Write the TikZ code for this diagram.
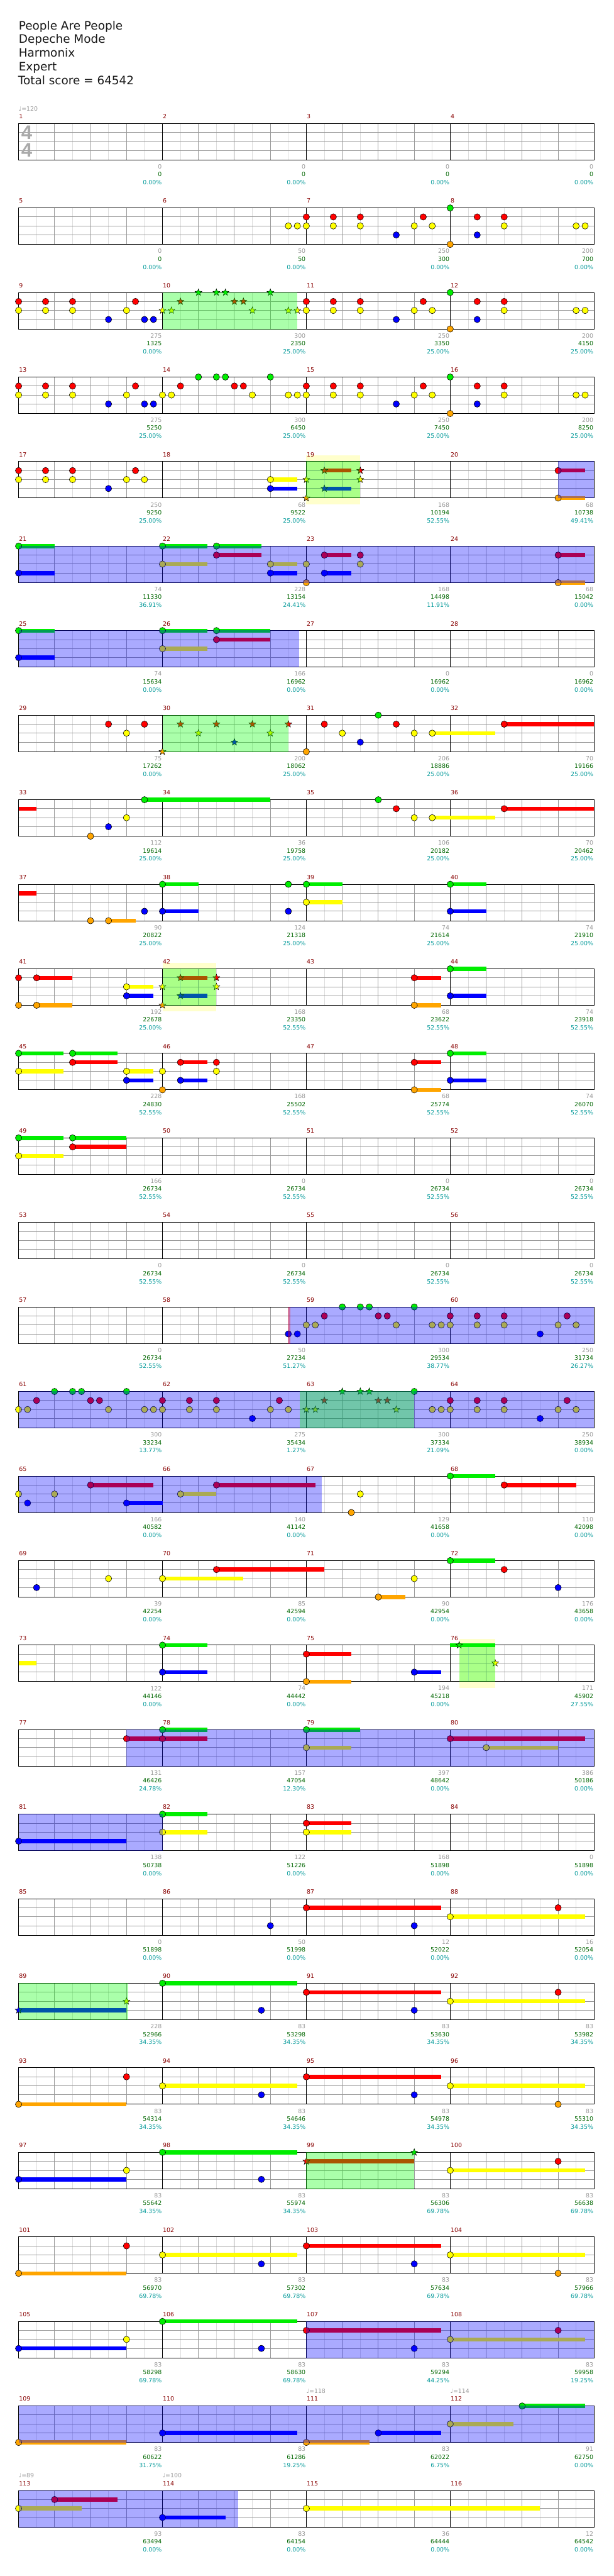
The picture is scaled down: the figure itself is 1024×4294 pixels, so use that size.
\documentclass[tikz,border=0pt]{standalone}
\usepackage{fontspec}
\setmainfont{DejaVu Sans}
\newfontfamily\tsfont{Liberation Sans}
\usetikzlibrary{shapes.geometric}
\definecolor{mnum}{HTML}{880000}
\definecolor{lgray}{HTML}{999999}
\definecolor{sgreen}{HTML}{006600}
\definecolor{scyan}{HTML}{009999}
\definecolor{gridA}{HTML}{999999}
\definecolor{gridB}{HTML}{DDDDDD}
\definecolor{cG}{HTML}{00EE00}
\definecolor{cR}{HTML}{FF0000}
\definecolor{cY}{HTML}{FFFF00}
\definecolor{cB}{HTML}{0000FF}
\definecolor{cO}{HTML}{FFA500}
\definecolor{cOD}{HTML}{00FF00}
\definecolor{paleY}{HTML}{FFFFCC}
\definecolor{tsgray}{HTML}{AAAAAA}
\newcount\nc
\def\lf{\fontsize{7.4pt}{8pt}\selectfont}
\tikzset{
  note/.style={circle,draw=black,line width=0.45pt,inner sep=0pt,minimum size=8pt},
  starn/.style={star,star points=5,star point ratio=2.4,draw=black,line width=0.4pt,inner sep=0pt,minimum size=9pt},
  lbl/.style={font=\lf,inner sep=0pt,anchor=east},
  mn/.style={font=\lf,text=mnum,inner sep=0pt,anchor=west},
  gl/.style={line width=0.75pt},
  title/.style={anchor=base west,inner sep=0pt,font=\fontsize{14.5pt}{16pt}\selectfont,text=black!90},
}
\def\Ln#1#2#3{\foreach \q in {#3}{\global\advance\nc by 1\relax\node[note,fill=#1] (n\the\nc) at ({15*\q},#2) {};}}
\def\Lt#1#2#3{\foreach \q in {#3}{\global\advance\nc by 1\relax\node[starn,fill=#1] (n\the\nc) at ({15*\q},#2) {};}}
\def\Ls#1#2#3#4{\fill[#1] ({15*#3},{#2-3.4}) rectangle ({15*#4},{#2+3.4});}
\def\Gn#1{\Ln{cG}{0}{#1}}\def\Rn#1{\Ln{cR}{15}{#1}}\def\Yn#1{\Ln{cY}{30}{#1}}\def\Bn#1{\Ln{cB}{45}{#1}}\def\On#1{\Ln{cO}{60.8}{#1}}
\def\Gt#1{\Lt{cG}{0}{#1}}\def\Rt#1{\Lt{cR}{15}{#1}}\def\Yt#1{\Lt{cY}{30}{#1}}\def\Bt#1{\Lt{cB}{45}{#1}}\def\Ot#1{\Lt{cO}{60.8}{#1}}
\def\Gs#1#2{\Ls{cG}{0}{#1}{#2}}\def\Rs#1#2{\Ls{cR}{15}{#1}{#2}}\def\Ys#1#2{\Ls{cY}{30}{#1}{#2}}\def\Bs#1#2{\Ls{cB}{45}{#1}{#2}}\def\Os#1#2{\Ls{cO}{60.8}{#1}{#2}}
\def\blu#1#2{\fill[blue,fill opacity=0.3333] ({15*#1},-0.5) rectangle ({15*#2},61.3);}
\def\grn#1#2{\fill[cOD,fill opacity=0.3333] ({15*#1},-0.5) rectangle ({15*#2},61.3);}
\def\pal#1#2{\fill[paleY] ({15*#1},-10.4) rectangle ({15*#2},71);}
\def\grid#1{%
  \foreach \i in {2,6,...,62}{\draw[gridB,gl] ({15*\i},0) -- ({15*\i},60.8);}
  \foreach \yy in {15,30,45}{\draw[gridA,gl] (0,\yy) -- (960,\yy);}
  \foreach \i in {4,8,12,20,24,28,36,40,44,52,56,60}{\draw[gridA,gl] ({15*\i},0) -- ({15*\i},60.8);}
  \foreach \i in {16,32,48}{\draw[black,gl] ({15*\i},0) -- ({15*\i},60.8);}
  \draw[black,gl] (0,0) rectangle (960,60.8);
  \foreach \k in {0,1,2,3}{\pgfmathtruncatemacro\mm{#1+\k}\global\advance\nc by 1\relax\node[mn] (m\the\nc) at ({240*\k+0.5},-11.7) {\mm};}
}
\def\lab#1#2#3#4{%
  \global\advance\nc by 1\relax\node[lbl,text=lgray] (a\the\nc) at ({240*#1-1},72) {#2};
  \node[lbl,text=sgreen] (b\the\nc) at ({240*#1-1},85) {#3};
  \node[lbl,text=scyan] (c\the\nc) at ({240*#1-1},98.5) {#4};}
\def\RowAt#1{\begin{scope}[shift={(31,{205.7+(#1-1)*140.92})}]}
\def\RowEnd{\end{scope}}
\newfontfamily\symf{DejaVu Sans}
\def\tempo#1#2{\global\advance\nc by 1\relax\node[font=\lf,text=lgray,anchor=west,inner sep=0pt] (t\the\nc) at (#1,-24.7) {\symf ♩=#2};}
\begin{document}
\begin{tikzpicture}[x=0.75pt,y=-0.75pt]
\useasboundingbox (0,0) rectangle (1024,4294);
\fill[white] (0,0) rectangle (1024,4294);
\node[title] (t1) at (31,49.3) {People Are People};
\node[title] (t2) at (31,72.3) {Depeche Mode};
\node[title] (t3) at (31,95.3) {Harmonix};
\node[title] (t4) at (31,118.3) {Expert};
\node[title] (t5) at (30,141.3) {Total score = 64542};
% ---- row 1
\RowAt{1}
\grid{1}
\node[font=\tsfont\bfseries\fontsize{24.5pt}{25pt}\selectfont,text=tsgray,inner sep=0pt] (ts1) at (13.5,15) {4};
\node[font=\tsfont\bfseries\fontsize{24.5pt}{25pt}\selectfont,text=tsgray,inner sep=0pt] (ts2) at (13.5,45) {4};
\tempo{0}{120}
\lab1{0}{0}{0.00\%}\lab2{0}{0}{0.00\%}\lab3{0}{0}{0.00\%}\lab4{0}{0}{0.00\%}
\RowEnd
% ---- row 2
\RowAt{2}
\grid{5}
\Yn{30,31,32,35,38,44,46,54,62,63}\Rn{32,35,38,45,51,54}\Bn{42,51}\Gn{48}\On{48}
\lab1{0}{0}{0.00\%}\lab2{50}{50}{0.00\%}\lab3{250}{300}{0.00\%}\lab4{200}{700}{0.00\%}
\RowEnd
% ---- row 3
\RowAt{3}
\grid{9}
\Rn{0,3,6,13,32,35,38,45,51,54}\Yn{0,3,6,12,32,35,38,44,46,54,62,63}\Bn{10,14,15,42,51}\Gn{48}\On{48}
\Yt{16,17,26,30,31}\Rt{18,24,25}\Gt{20,22,23,28}
\grn{16}{31}
\lab1{275}{1325}{0.00\%}\lab2{300}{2350}{25.00\%}\lab3{250}{3350}{25.00\%}\lab4{200}{4150}{25.00\%}
\RowEnd
% ---- row 4
\RowAt{4}
\grid{13}
\Rn{0,3,6,13,18,24,25,32,35,38,45,51,54}\Yn{0,3,6,12,16,17,26,30,31,32,35,38,44,46,54,62,63}
\Bn{10,14,15,42,51}\Gn{20,22,23,28,48}\On{48}
\lab1{275}{5250}{25.00\%}\lab2{300}{6450}{25.00\%}\lab3{250}{7450}{25.00\%}\lab4{200}{8250}{25.00\%}
\RowEnd
% ---- row 5
\RowAt{5}
\pal{32}{38}
\grid{17}
\Rn{0,3,6,13}\Yn{0,3,6,12,14}\Bn{10}
\Ys{28}{31}\Yn{28}\Bs{28}{31}\Bn{28}
\Rs{34}{37}\Bs{34}{37}\Yt{32,38}\Ot{32}\Rt{34,38}\Bt{34}
\Rs{60}{63}\Os{60}{63}\Rn{60}\On{60}
\grn{32}{38}\blu{60}{64}
\lab1{250}{9250}{25.00\%}\lab2{68}{9522}{25.00\%}\lab3{168}{10194}{52.55\%}\lab4{68}{10738}{49.41\%}
\RowEnd
% ---- row 6
\RowAt{6}
\grid{21}
\Gs{0}{4}\Bs{0}{4}\Gs{16}{21}\Ys{16}{21}\Gs{22}{27}\Rs{22}{27}\Ys{28}{31}\Bs{28}{31}
\Rs{34}{37}\Bs{34}{37}\Rs{60}{63}\Os{60}{63}
\Gn{0,16,22}\Bn{0,28,34}\Yn{16,28,32,38}\Rn{22,34,38,60}\On{32,60}
\blu{0}{64}
\lab1{74}{11330}{36.91\%}\lab2{228}{13154}{24.41\%}\lab3{168}{14498}{11.91\%}\lab4{68}{15042}{0.00\%}
\RowEnd
% ---- row 7
\RowAt{7}
\grid{25}
\Gs{0}{4}\Bs{0}{4}\Gs{16}{21}\Ys{16}{21}\Gs{22}{28}\Rs{22}{28}
\Gn{0,16,22}\Bn{0}\Yn{16}\Rn{22}
\blu{0}{31.2}
\lab1{74}{15634}{0.00\%}\lab2{166}{16962}{0.00\%}\lab3{0}{16962}{0.00\%}\lab4{0}{16962}{0.00\%}
\RowEnd
% ---- row 8
\RowAt{8}
\grid{29}
\Ys{46}{53}\Rs{54}{64}
\Rn{10,14,34,42,54}\Yn{12,36,44,46}\On{32}\Bn{38}\Gn{40}
\Ot{16}\Rt{18,22,26,30}\Yt{20,28}\Bt{24}
\grn{16}{30}
\lab1{75}{17262}{0.00\%}\lab2{200}{18062}{25.00\%}\lab3{206}{18886}{25.00\%}\lab4{70}{19166}{25.00\%}
\RowEnd
% ---- row 9
\RowAt{9}
\grid{33}
\Rs{0}{2}\Gs{14}{28}\Ys{46}{53}\Rs{54}{64}
\On{8}\Bn{10}\Yn{12,44,46}\Gn{14,40}\Rn{42,54}
\lab1{112}{19614}{25.00\%}\lab2{36}{19758}{25.00\%}\lab3{106}{20182}{25.00\%}\lab4{70}{20462}{25.00\%}
\RowEnd
% ---- row 10
\RowAt{10}
\grid{37}
\Rs{0}{2}\Os{10}{13}\Gs{16}{20}\Bs{16}{20}\Gs{32}{36}\Ys{32}{36}\Gs{48}{52}\Bs{48}{52}
\On{8,10}\Bn{14,16,30,48}\Gn{16,30,32,48}\Yn{32}
\lab1{90}{20822}{25.00\%}\lab2{124}{21318}{25.00\%}\lab3{74}{21614}{25.00\%}\lab4{74}{21910}{25.00\%}
\RowEnd
% ---- row 11
\RowAt{11}
\pal{16}{22}
\grid{41}
\Rs{2}{6}\Os{2}{6}\Ys{12}{15}\Bs{12}{15}\Rs{18}{21}\Bs{18}{21}\Rs{44}{47}\Os{44}{47}\Gs{48}{52}\Bs{48}{52}
\Rn{0,2,44}\On{0,2,44}\Yn{12}\Bn{12,48}\Gn{48}
\Yt{16,22}\Ot{16}\Rt{18,22}\Bt{18}
\grn{16}{22}
\lab1{192}{22678}{25.00\%}\lab2{168}{23350}{52.55\%}\lab3{68}{23622}{52.55\%}\lab4{74}{23918}{52.55\%}
\RowEnd
% ---- row 12
\RowAt{12}
\grid{45}
\Gs{0}{5}\Ys{0}{5}\Gs{6}{11}\Rs{6}{11}\Ys{12}{15}\Bs{12}{15}\Rs{18}{21}\Bs{18}{21}\Rs{44}{47}\Os{44}{47}\Gs{48}{52}\Bs{48}{52}
\Gn{0,6,48}\Yn{0,12,16,22}\Rn{6,18,22,44}\Bn{12,18,48}\On{16,44}
\lab1{228}{24830}{52.55\%}\lab2{168}{25502}{52.55\%}\lab3{68}{25774}{52.55\%}\lab4{74}{26070}{52.55\%}
\RowEnd
% ---- row 13
\RowAt{13}
\grid{49}
\Gs{0}{5}\Ys{0}{5}\Gs{6}{12}\Rs{6}{12}
\Gn{0,6}\Yn{0}\Rn{6}
\lab1{166}{26734}{52.55\%}\lab2{0}{26734}{52.55\%}\lab3{0}{26734}{52.55\%}\lab4{0}{26734}{52.55\%}
\RowEnd
% ---- row 14
\RowAt{14}
\grid{53}
\lab1{0}{26734}{52.55\%}\lab2{0}{26734}{52.55\%}\lab3{0}{26734}{52.55\%}\lab4{0}{26734}{52.55\%}
\RowEnd
% ---- row 15
\RowAt{15}
\grid{57}
\Bn{30,31,58}\Yn{32,33,42,46,47,48,51,54,60,62}\Rn{34,40,41,48,51,54,61}\Gn{36,38,39,44}
\blu{30}{64}
\fill[red,fill opacity=0.35] (449,-0.5) rectangle (453,61.3);
\lab1{0}{26734}{52.55\%}\lab2{50}{27234}{51.27\%}\lab3{300}{29534}{38.77\%}\lab4{250}{31734}{26.27\%}
\RowEnd
% ---- row 16
\RowAt{16}
\grid{61}
\Yn{0,1,10,14,15,16,19,22,28,30,46,47,48,51,54,60,62}\Rn{2,8,9,16,19,22,29,48,51,54,61}\Gn{4,6,7,12,44}\Bn{26,58}
\Yt{32,33,42}\Rt{34,40,41}\Gt{36,38,39}
\blu{0}{64}\grn{31.3}{44}
\lab1{300}{33234}{13.77\%}\lab2{275}{35434}{1.27\%}\lab3{300}{37334}{21.09\%}\lab4{250}{38934}{0.00\%}
\RowEnd
% ---- row 17
\RowAt{17}
\grid{65}
\Rs{8}{15}\Bs{12}{16}\Ys{18}{22}\Rs{22}{33}\Gs{48}{53}\Rs{54}{62}
\Yn{0,4,18,38}\Bn{1,12}\Rn{8,22,54}\On{37}\Gn{48}
\blu{0}{33.7}
\lab1{166}{40582}{0.00\%}\lab2{140}{41142}{0.00\%}\lab3{129}{41658}{0.00\%}\lab4{110}{42098}{0.00\%}
\RowEnd
% ---- row 18
\RowAt{18}
\grid{69}
\Ys{16}{25}\Rs{22}{34}\Os{40}{43}\Gs{48}{53}
\Bn{2}\Yn{10,16,44}\Rn{22,54}\On{40}\Gn{48}\Bn{60}
\lab1{39}{42254}{0.00\%}\lab2{85}{42594}{0.00\%}\lab3{90}{42954}{0.00\%}\lab4{176}{43658}{0.00\%}
\RowEnd
% ---- row 19
\RowAt{19}
\pal{49}{53}
\grid{73}
\Ys{0}{2}\Gs{16}{21}\Bs{16}{21}\Rs{32}{37}\Os{32}{37}\Bs{44}{47}\Gs{48}{53}
\Gn{16}\Bn{16,44}\Rn{32}\On{32}\Gt{49}\Yt{53}
\grn{49}{53}
\lab1{122}{44146}{0.00\%}\lab2{74}{44442}{0.00\%}\lab3{194}{45218}{0.00\%}\lab4{171}{45902}{27.55\%}
\RowEnd
% ---- row 20
\RowAt{20}
\grid{77}
\Rs{12}{16}\Gs{16}{21}\Rs{16}{21}\Gs{32}{38}\Ys{32}{37}\Rs{48}{63}\Ys{52}{60}
\Rn{12,16,48}\Gn{16,32}\Yn{32,52}
\blu{12}{64}
\lab1{131}{46426}{24.78\%}\lab2{157}{47054}{12.30\%}\lab3{397}{48642}{0.00\%}\lab4{386}{50186}{0.00\%}
\RowEnd
% ---- row 21
\RowAt{21}
\grid{81}
\Bs{0}{12}\Gs{16}{21}\Ys{16}{21}\Rs{32}{37}\Ys{32}{37}
\Bn{0}\Gn{16}\Yn{16,32}\Rn{32}
\blu{0}{16}
\lab1{138}{50738}{0.00\%}\lab2{122}{51226}{0.00\%}\lab3{168}{51898}{0.00\%}\lab4{0}{51898}{0.00\%}
\RowEnd
% ---- row 22
\RowAt{22}
\grid{85}
\Rs{32}{47}\Ys{48}{63}
\Bn{28,44}\Rn{32,60}\Yn{48}
\lab1{0}{51898}{0.00\%}\lab2{50}{51998}{0.00\%}\lab3{12}{52022}{0.00\%}\lab4{16}{52054}{0.00\%}
\RowEnd
% ---- row 23
\RowAt{23}
\grid{89}
\Bs{0}{12}\Gs{16}{31}\Rs{32}{47}\Ys{48}{63}
\Bt{0}\Yt{12}\Gn{16}\Bn{27,44}\Rn{32,60}\Yn{48}
\grn{0}{12.2}
\lab1{228}{52966}{34.35\%}\lab2{83}{53298}{34.35\%}\lab3{83}{53630}{34.35\%}\lab4{83}{53982}{34.35\%}
\RowEnd
% ---- row 24
\RowAt{24}
\grid{93}
\Os{0}{12}\Ys{16}{31}\Rs{32}{47}\Ys{48}{63}
\On{0,60}\Rn{12,32}\Yn{16,48}\Bn{27,44}
\lab1{83}{54314}{34.35\%}\lab2{83}{54646}{34.35\%}\lab3{83}{54978}{34.35\%}\lab4{83}{55310}{34.35\%}
\RowEnd
% ---- row 25
\RowAt{25}
\grid{97}
\Bs{0}{12}\Gs{16}{31}\Rs{32}{44}\Ys{48}{63}
\Bn{0,27}\Yn{12,48}\Gn{16}\Rt{32}\Gt{44}\Rn{60}
\grn{32}{44}
\lab1{83}{55642}{34.35\%}\lab2{83}{55974}{34.35\%}\lab3{83}{56306}{69.78\%}\lab4{83}{56638}{69.78\%}
\RowEnd
% ---- row 26
\RowAt{26}
\grid{101}
\Os{0}{12}\Ys{16}{31}\Rs{32}{47}\Ys{48}{63}
\On{0,60}\Rn{12,32}\Yn{16,48}\Bn{27,44}
\lab1{83}{56970}{69.78\%}\lab2{83}{57302}{69.78\%}\lab3{83}{57634}{69.78\%}\lab4{83}{57966}{69.78\%}
\RowEnd
% ---- row 27
\RowAt{27}
\grid{105}
\Bs{0}{12}\Gs{16}{31}\Rs{32}{47}\Ys{48}{63}
\Bn{0,27,44}\Yn{12,48}\Gn{16}\Rn{32,60}
\blu{32}{64}
\lab1{83}{58298}{69.78\%}\lab2{83}{58630}{69.78\%}\lab3{83}{59294}{44.25\%}\lab4{83}{59958}{19.25\%}
\RowEnd
% ---- row 28
\RowAt{28}
\grid{109}
\tempo{480}{118}\tempo{720}{114}
\Os{0}{12}\Bs{16}{31}\Os{32}{39}\Bs{40}{47}\Ys{48}{55}\Gs{56}{63}
\On{0,32}\Bn{16,40}\Yn{48}\Gn{56}
\blu{0}{64}
\lab1{83}{60622}{31.75\%}\lab2{83}{61286}{19.25\%}\lab3{83}{62022}{6.75\%}\lab4{91}{62750}{0.00\%}
\RowEnd
% ---- row 29
\RowAt{29}
\grid{113}
\tempo{0}{89}\tempo{240}{100}
\Ys{0}{7}\Rs{4}{11}\Bs{16}{23}\Ys{32}{58}
\Yn{0,32}\Rn{4}\Bn{16}
\blu{0}{24.4}
\lab1{93}{63494}{0.00\%}\lab2{83}{64154}{0.00\%}\lab3{36}{64444}{0.00\%}\lab4{12}{64542}{0.00\%}
\RowEnd
\end{tikzpicture}
\end{document}
